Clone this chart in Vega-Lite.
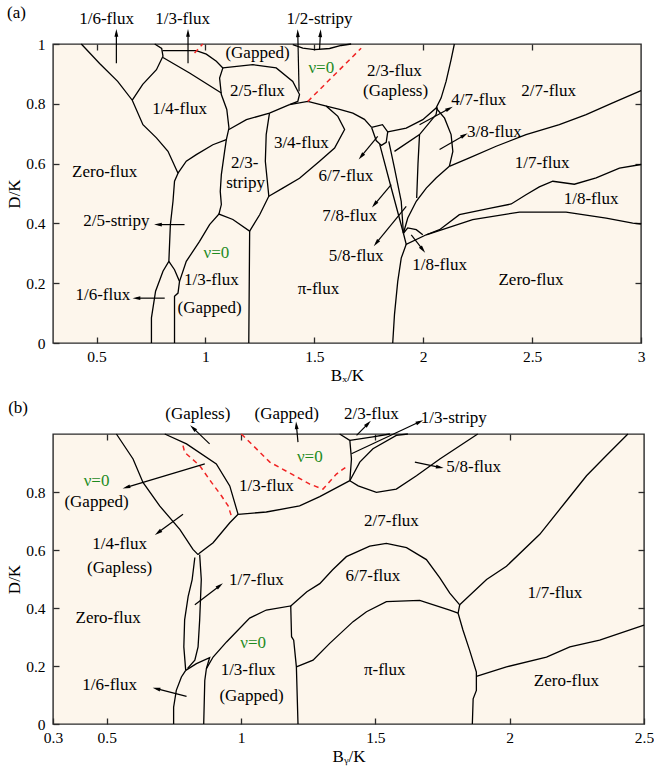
{
"$schema": "https://vega.github.io/schema/vega-lite/v6.json",
"padding": {"left": 4, "top": 2, "right": 0, "bottom": 2},
"config": {
  "view": {"fill": "#FDF6EC", "stroke": "#2a2a2a", "strokeWidth": 1.4},
  "axis": {"domain": false, "grid": false, "ticks": true, "tickSize": -6, "tickColor": "#2a2a2a", "tickWidth": 1.3, "labelFont": "Liberation Serif", "labelFontSize": 15.5, "labelColor": "#000", "labelFlush": false, "labelPadding": 12, "labelOverlap": false, "titleFont": "Liberation Serif", "titleFontSize": 17, "titleFontWeight": "normal", "titleColor": "#000"},
  "axisY": {"labelPadding": 14, "titlePadding": 2},
  "axisX": {"titlePadding": 3},
  "text": {"font": "Liberation Serif", "fontSize": 17},
  "concat": {"spacing": 12}
},
"datasets": {
  "aLines": [
    {"s":"a1","x":0.430,"y":1.0},{"s":"a1","x":0.514,"y":0.935},{"s":"a1","x":0.597,"y":0.875},{"s":"a1","x":0.664,"y":0.812},{"s":"a1","x":0.713,"y":0.730},{"s":"a1","x":0.775,"y":0.686},{"s":"a1","x":0.828,"y":0.641},{"s":"a1","x":0.874,"y":0.568},{"s":"a1","x":0.858,"y":0.541},{"s":"a1","x":0.851,"y":0.474},{"s":"a1","x":0.839,"y":0.396},{"s":"a1","x":0.832,"y":0.273},{"s":"a1","x":0.805,"y":0.240},{"s":"a1","x":0.771,"y":0.173},{"s":"a1","x":0.752,"y":0.084},{"s":"a1","x":0.752,"y":0},
    {"s":"a2","x":0.832,"y":0.273},{"s":"a2","x":0.858,"y":0.245},{"s":"a2","x":0.881,"y":0.206},{"s":"a2","x":0.874,"y":0.167},{"s":"a2","x":0.858,"y":0.156},{"s":"a2","x":0.858,"y":0},
    {"s":"a3","x":0.664,"y":0.812},{"s":"a3","x":0.712,"y":0.865},{"s":"a3","x":0.775,"y":0.914},{"s":"a3","x":0.805,"y":0.959},{"s":"a3","x":0.799,"y":0.985},{"s":"a3","x":0.767,"y":1.0},
    {"s":"a4","x":0.803,"y":0.978},{"s":"a4","x":0.958,"y":0.978},{"s":"a4","x":1.004,"y":0.966},{"s":"a4","x":1.050,"y":0.942},{"s":"a4","x":1.080,"y":0.920},
    {"s":"a5","x":0.805,"y":0.955},{"s":"a5","x":0.927,"y":0.903},{"s":"a5","x":1.073,"y":0.836},
    {"s":"a6","x":1.080,"y":0.920},{"s":"a6","x":1.065,"y":0.886},{"s":"a6","x":1.073,"y":0.831},{"s":"a6","x":1.098,"y":0.781},{"s":"a6","x":1.108,"y":0.719},{"s":"a6","x":1.096,"y":0.680},{"s":"a6","x":1.088,"y":0.641},{"s":"a6","x":1.073,"y":0.563},{"s":"a6","x":1.068,"y":0.507},{"s":"a6","x":1.073,"y":0.463},{"s":"a6","x":1.062,"y":0.431},
    {"s":"a7","x":1.096,"y":0.680},{"s":"a7","x":1.034,"y":0.663},{"s":"a7","x":0.958,"y":0.630},{"s":"a7","x":0.912,"y":0.608},{"s":"a7","x":0.874,"y":0.568},
    {"s":"a8","x":1.080,"y":0.920},{"s":"a8","x":1.218,"y":0.931},{"s":"a8","x":1.325,"y":0.920},{"s":"a8","x":1.401,"y":0.875},{"s":"a8","x":1.432,"y":0.831},{"s":"a8","x":1.424,"y":0.808},{"s":"a8","x":1.386,"y":0.797},
    {"s":"a9","x":1.108,"y":0.714},{"s":"a9","x":1.188,"y":0.747},{"s":"a9","x":1.294,"y":0.769},{"s":"a9","x":1.386,"y":0.797},
    {"s":"a10","x":1.386,"y":0.797},{"s":"a10","x":1.470,"y":0.808},{"s":"a10","x":1.555,"y":0.792},{"s":"a10","x":1.608,"y":0.758},{"s":"a10","x":1.639,"y":0.714},{"s":"a10","x":1.593,"y":0.652},{"s":"a10","x":1.524,"y":0.608},{"s":"a10","x":1.432,"y":0.551},{"s":"a10","x":1.355,"y":0.518},{"s":"a10","x":1.291,"y":0.491},
    {"s":"a11","x":1.294,"y":0.769},{"s":"a11","x":1.279,"y":0.697},{"s":"a11","x":1.275,"y":0.608},{"s":"a11","x":1.291,"y":0.491},{"s":"a11","x":1.249,"y":0.429},{"s":"a11","x":1.203,"y":0.374},
    {"s":"a12","x":0.881,"y":0.206},{"s":"a12","x":0.912,"y":0.273},{"s":"a12","x":0.973,"y":0.340},{"s":"a12","x":1.019,"y":0.396},{"s":"a12","x":1.062,"y":0.431},{"s":"a12","x":1.126,"y":0.413},{"s":"a12","x":1.203,"y":0.374},{"s":"a12","x":1.199,"y":0},
    {"s":"a13","x":1.401,"y":0.998},{"s":"a13","x":1.447,"y":0.986},{"s":"a13","x":1.501,"y":0.981},{"s":"a13","x":1.570,"y":0.985},{"s":"a13","x":1.623,"y":0.995},{"s":"a13","x":1.669,"y":1.0},
    {"s":"a14","x":1.555,"y":0.792},{"s":"a14","x":1.616,"y":0.781},{"s":"a14","x":1.677,"y":0.769},{"s":"a14","x":1.730,"y":0.748},{"s":"a14","x":1.763,"y":0.721},
    {"s":"a15","x":1.763,"y":0.721},{"s":"a15","x":1.813,"y":0.730},{"s":"a15","x":1.837,"y":0.706},{"s":"a15","x":1.830,"y":0.671},{"s":"a15","x":1.808,"y":0.661},{"s":"a15","x":1.784,"y":0.677},{"s":"a15","x":1.763,"y":0.721},
    {"s":"a16","x":1.837,"y":0.706},{"s":"a16","x":1.922,"y":0.719},{"s":"a16","x":1.998,"y":0.747},{"s":"a16","x":2.059,"y":0.786},{"s":"a16","x":2.082,"y":0.819},{"s":"a16","x":2.105,"y":0.875},{"s":"a16","x":2.128,"y":0.948},{"s":"a16","x":2.143,"y":1.0},
    {"s":"a17","x":1.800,"y":0.665},{"s":"a17","x":1.845,"y":0.541},{"s":"a17","x":1.909,"y":0.367},
    {"s":"a18","x":1.842,"y":0.674},{"s":"a18","x":1.868,"y":0.585},{"s":"a18","x":1.899,"y":0.474},{"s":"a18","x":1.909,"y":0.367},
    {"s":"a19","x":1.868,"y":0.641},{"s":"a19","x":1.983,"y":0.697},{"s":"a19","x":2.059,"y":0.764},{"s":"a19","x":2.065,"y":0.788},
    {"s":"a20","x":1.983,"y":0.697},{"s":"a20","x":1.976,"y":0.600},{"s":"a20","x":1.970,"y":0.485},
    {"s":"a21","x":2.059,"y":0.786},{"s":"a21","x":2.098,"y":0.752},{"s":"a21","x":2.128,"y":0.697},{"s":"a21","x":2.136,"y":0.641},{"s":"a21","x":2.120,"y":0.591},
    {"s":"a22","x":2.120,"y":0.591},{"s":"a22","x":2.059,"y":0.552},{"s":"a22","x":2.014,"y":0.518},{"s":"a22","x":1.968,"y":0.474},{"s":"a22","x":1.929,"y":0.418},{"s":"a22","x":1.909,"y":0.367},
    {"s":"a23","x":2.120,"y":0.591},{"s":"a23","x":2.212,"y":0.619},{"s":"a23","x":2.335,"y":0.658},{"s":"a23","x":2.472,"y":0.697},{"s":"a23","x":2.625,"y":0.730},{"s":"a23","x":2.748,"y":0.764},{"s":"a23","x":2.870,"y":0.803},{"s":"a23","x":3.0,"y":0.844},
    {"s":"a24","x":2.014,"y":0.362},{"s":"a24","x":2.075,"y":0.379},{"s":"a24","x":2.166,"y":0.429},{"s":"a24","x":2.304,"y":0.450},{"s":"a24","x":2.404,"y":0.465},{"s":"a24","x":2.472,"y":0.496},{"s":"a24","x":2.533,"y":0.522},{"s":"a24","x":2.595,"y":0.541},{"s":"a24","x":2.694,"y":0.531},{"s":"a24","x":2.794,"y":0.552},{"s":"a24","x":2.901,"y":0.585},{"s":"a24","x":3.0,"y":0.597},
    {"s":"a25","x":2.014,"y":0.362},{"s":"a25","x":2.227,"y":0.413},{"s":"a25","x":2.442,"y":0.438},{"s":"a25","x":2.656,"y":0.438},{"s":"a25","x":2.840,"y":0.418},{"s":"a25","x":2.962,"y":0.401},{"s":"a25","x":3.0,"y":0.398},
    {"s":"a26","x":1.909,"y":0.367},{"s":"a26","x":1.922,"y":0.330},{"s":"a26","x":2.014,"y":0.362},
    {"s":"a27","x":1.909,"y":0.367},{"s":"a27","x":1.929,"y":0.385},{"s":"a27","x":1.968,"y":0.379},{"s":"a27","x":1.998,"y":0.362},
    {"s":"a28","x":1.922,"y":0.330},{"s":"a28","x":1.899,"y":0.284},{"s":"a28","x":1.883,"y":0.206},{"s":"a28","x":1.868,"y":0.095},{"s":"a28","x":1.860,"y":0}
  ],
  "aDash": [
    {"s":"d1","x":1.470,"y":0.808},{"s":"d1","x":1.715,"y":0.986},
    {"s":"d2","x":0.950,"y":0.970},{"s":"d2","x":0.988,"y":1.0}
  ],
  "aArrows": [
    {"tx":0.591,"ty":0.936,"hx":0.591,"hy":1.037,"dir":0},
    {"tx":0.920,"ty":0.936,"hx":0.920,"hy":1.037,"dir":0},
    {"tx":1.430,"ty":0.842,"hx":1.424,"hy":1.036,"dir":-2},
    {"tx":1.524,"ty":0.982,"hx":1.528,"hy":1.036,"dir":4},
    {"tx":0.904,"ty":0.396,"hx":0.782,"hy":0.396,"dir":270},
    {"tx":0.813,"ty":0.150,"hx":0.683,"hy":0.150,"dir":270},
    {"tx":1.791,"ty":0.691,"hx":1.715,"hy":0.624,"dir":220},
    {"tx":1.983,"ty":0.730,"hx":2.120,"hy":0.784,"dir":62},
    {"tx":2.075,"ty":0.647,"hx":2.189,"hy":0.695,"dir":60},
    {"tx":1.853,"ty":0.530,"hx":1.776,"hy":0.463,"dir":220},
    {"tx":1.922,"ty":0.457,"hx":1.784,"hy":0.334,"dir":219},
    {"tx":1.945,"ty":0.362,"hx":1.998,"hy":0.312,"dir":142}
  ],
  "aLabels": [
    {"t":"(a)","x":0.132,"y":1.105},
    {"t":"1/6-flux","x":0.546,"y":1.083},
    {"t":"1/3-flux","x":0.895,"y":1.083},
    {"t":"1/2-stripy","x":1.524,"y":1.083},
    {"t":"(Gapped)","x":1.239,"y":0.969},
    {"t":"2/5-flux","x":1.239,"y":0.842},
    {"t":"2/3-flux","x":1.868,"y":0.909},
    {"t":"(Gapless)","x":1.873,"y":0.844},
    {"t":"4/7-flux","x":2.255,"y":0.814},
    {"t":"2/7-flux","x":2.576,"y":0.844},
    {"t":"1/4-flux","x":0.881,"y":0.781},
    {"t":"3/4-flux","x":1.440,"y":0.669},
    {"t":"3/8-flux","x":2.327,"y":0.706},
    {"t":"2/3-","x":1.180,"y":0.602},
    {"t":"stripy","x":1.184,"y":0.534},
    {"t":"Zero-flux","x":0.537,"y":0.572},
    {"t":"1/7-flux","x":2.546,"y":0.602},
    {"t":"6/7-flux","x":1.645,"y":0.557},
    {"t":"1/8-flux","x":2.771,"y":0.480},
    {"t":"7/8-flux","x":1.662,"y":0.424},
    {"t":"2/5-stripy","x":0.591,"y":0.407},
    {"t":"5/8-flux","x":1.692,"y":0.290},
    {"t":"1/8-flux","x":2.075,"y":0.262},
    {"t":"1/3-flux","x":1.027,"y":0.212},
    {"t":"Zero-flux","x":2.495,"y":0.212},
    {"t":"π-flux","x":1.519,"y":0.179},
    {"t":"1/6-flux","x":0.529,"y":0.162},
    {"t":"(Gapped)","x":1.019,"y":0.117}
  ],
  "aNu": [
    {"t":"ν=0","x":1.532,"y":0.920},
    {"t":"ν=0","x":1.050,"y":0.301}
  ],
  "bLines": [
    {"s":"b1","x":0.536,"y":1.0},{"s":"b1","x":0.598,"y":0.914},{"s":"b1","x":0.635,"y":0.833},{"s":"b1","x":0.697,"y":0.752},{"s":"b1","x":0.772,"y":0.671},{"s":"b1","x":0.821,"y":0.602},{"s":"b1","x":0.840,"y":0.584},
    {"s":"b2","x":0.716,"y":1.0},{"s":"b2","x":0.797,"y":0.966},{"s":"b2","x":0.908,"y":0.897},{"s":"b2","x":0.958,"y":0.821},{"s":"b2","x":0.989,"y":0.723},
    {"s":"b3","x":0.989,"y":0.723},{"s":"b3","x":1.094,"y":0.731},{"s":"b3","x":1.218,"y":0.752},{"s":"b3","x":1.293,"y":0.784},{"s":"b3","x":1.405,"y":0.839},
    {"s":"b4","x":0.989,"y":0.723},{"s":"b4","x":0.958,"y":0.694},{"s":"b4","x":0.896,"y":0.625},{"s":"b4","x":0.846,"y":0.590},{"s":"b4","x":0.840,"y":0.584},
    {"s":"b5","x":0.828,"y":0.574},{"s":"b5","x":0.818,"y":0.498},{"s":"b5","x":0.803,"y":0.439},{"s":"b5","x":0.790,"y":0.359},{"s":"b5","x":0.787,"y":0.266},{"s":"b5","x":0.794,"y":0.185},
    {"s":"b6","x":0.846,"y":0.584},{"s":"b6","x":0.852,"y":0.498},{"s":"b6","x":0.846,"y":0.359},{"s":"b6","x":0.840,"y":0.266},{"s":"b6","x":0.828,"y":0.220},{"s":"b6","x":0.801,"y":0.192},
    {"s":"b7","x":0.794,"y":0.185},{"s":"b7","x":0.778,"y":0.162},{"s":"b7","x":0.759,"y":0.116},{"s":"b7","x":0.749,"y":0.058},{"s":"b7","x":0.749,"y":0},
    {"s":"b8","x":0.794,"y":0.185},{"s":"b8","x":0.834,"y":0.208},{"s":"b8","x":0.883,"y":0.229},{"s":"b8","x":0.871,"y":0.191},{"s":"b8","x":0.865,"y":0.150},{"s":"b8","x":0.861,"y":0},
    {"s":"b9","x":0.871,"y":0.191},{"s":"b9","x":0.896,"y":0.231},{"s":"b9","x":0.946,"y":0.283},{"s":"b9","x":1.032,"y":0.365},{"s":"b9","x":1.094,"y":0.393},{"s":"b9","x":1.185,"y":0.407},{"s":"b9","x":1.188,"y":0.301},{"s":"b9","x":1.196,"y":0.289},{"s":"b9","x":1.206,"y":0.197},{"s":"b9","x":1.212,"y":0},
    {"s":"b10","x":1.185,"y":0.407},{"s":"b10","x":1.245,"y":0.456},{"s":"b10","x":1.293,"y":0.484},{"s":"b10","x":1.341,"y":0.532},{"s":"b10","x":1.392,"y":0.577},{"s":"b10","x":1.479,"y":0.613},{"s":"b10","x":1.541,"y":0.623},{"s":"b10","x":1.616,"y":0.608},{"s":"b10","x":1.690,"y":0.567},{"s":"b10","x":1.740,"y":0.504},{"s":"b10","x":1.777,"y":0.451},{"s":"b10","x":1.814,"y":0.411},
    {"s":"b11","x":1.206,"y":0.197},{"s":"b11","x":1.268,"y":0.220},{"s":"b11","x":1.330,"y":0.278},{"s":"b11","x":1.417,"y":0.353},{"s":"b11","x":1.467,"y":0.387},{"s":"b11","x":1.541,"y":0.422},{"s":"b11","x":1.665,"y":0.426},{"s":"b11","x":1.777,"y":0.393},{"s":"b11","x":1.808,"y":0.382},
    {"s":"b12","x":1.814,"y":0.411},{"s":"b12","x":1.808,"y":0.382},{"s":"b12","x":1.826,"y":0.324},{"s":"b12","x":1.851,"y":0.254},{"s":"b12","x":1.876,"y":0.179},{"s":"b12","x":1.876,"y":0.116},{"s":"b12","x":1.864,"y":0.087},{"s":"b12","x":1.861,"y":0},
    {"s":"b13","x":1.814,"y":0.411},{"s":"b13","x":1.914,"y":0.498},{"s":"b13","x":1.988,"y":0.544},{"s":"b13","x":2.112,"y":0.654},{"s":"b13","x":2.211,"y":0.769},{"s":"b13","x":2.286,"y":0.856},{"s":"b13","x":2.360,"y":0.926},{"s":"b13","x":2.440,"y":1.0},
    {"s":"b14","x":1.876,"y":0.164},{"s":"b14","x":1.988,"y":0.197},{"s":"b14","x":2.137,"y":0.231},{"s":"b14","x":2.224,"y":0.266},{"s":"b14","x":2.335,"y":0.289},{"s":"b14","x":2.5,"y":0.341},
    {"s":"b15","x":1.367,"y":1.0},{"s":"b15","x":1.405,"y":0.978},{"s":"b15","x":1.411,"y":0.914},{"s":"b15","x":1.405,"y":0.839},
    {"s":"b16","x":1.405,"y":0.978},{"s":"b16","x":1.491,"y":0.990},{"s":"b16","x":1.554,"y":1.0},
    {"s":"b17","x":1.405,"y":0.839},{"s":"b17","x":1.442,"y":0.903},{"s":"b17","x":1.491,"y":0.949},{"s":"b17","x":1.578,"y":0.995},{"s":"b17","x":1.621,"y":1.0},
    {"s":"b18","x":1.405,"y":0.839},{"s":"b18","x":1.436,"y":0.821},{"s":"b18","x":1.504,"y":0.799},{"s":"b18","x":1.578,"y":0.810},{"s":"b18","x":1.653,"y":0.856},{"s":"b18","x":1.740,"y":0.914},{"s":"b18","x":1.881,"y":1.0}
  ],
  "bDash": [
    {"s":"r1","x":1.001,"y":1.0},{"s":"r1","x":1.045,"y":0.960},{"s":"r1","x":1.107,"y":0.903},{"s":"r1","x":1.194,"y":0.859},{"s":"r1","x":1.256,"y":0.827},{"s":"r1","x":1.305,"y":0.810},{"s":"r1","x":1.355,"y":0.862},{"s":"r1","x":1.398,"y":0.891},
    {"s":"r2","x":0.784,"y":0.960},{"s":"r2","x":0.790,"y":0.937},{"s":"r2","x":0.846,"y":0.891},{"s":"r2","x":0.890,"y":0.833},{"s":"r2","x":0.927,"y":0.787},{"s":"r2","x":0.952,"y":0.752},{"s":"r2","x":0.964,"y":0.717}
  ],
  "bArrows": [
    {"tx":0.883,"ty":0.966,"hx":0.821,"hy":1.021,"dir":313},
    {"tx":1.212,"ty":0.972,"hx":1.206,"hy":1.030,"dir":-5},
    {"tx":0.865,"ty":0.897,"hx":0.573,"hy":0.816,"dir":253},
    {"tx":0.784,"ty":0.723,"hx":0.691,"hy":0.660,"dir":234},
    {"tx":0.828,"ty":0.411,"hx":0.921,"hy":0.477,"dir":53},
    {"tx":0.797,"ty":0.095,"hx":0.685,"hy":0.122,"dir":284},
    {"tx":1.430,"ty":0.995,"hx":1.473,"hy":1.036,"dir":45},
    {"tx":1.411,"ty":0.932,"hx":1.665,"hy":1.042,"dir":65},
    {"tx":1.647,"ty":0.903,"hx":1.740,"hy":0.885,"dir":101}
  ],
  "bLabels": [
    {"t":"(b)","x":0.170,"y":1.091},
    {"t":"(Gapless)","x":0.839,"y":1.070},
    {"t":"(Gapped)","x":1.170,"y":1.070},
    {"t":"2/3-flux","x":1.485,"y":1.070},
    {"t":"1/3-stripy","x":1.792,"y":1.056},
    {"t":"1/3-flux","x":1.094,"y":0.821},
    {"t":"5/8-flux","x":1.866,"y":0.885},
    {"t":"(Gapped)","x":0.462,"y":0.765},
    {"t":"2/7-flux","x":1.560,"y":0.700},
    {"t":"1/4-flux","x":0.548,"y":0.619},
    {"t":"6/7-flux","x":1.491,"y":0.511},
    {"t":"(Gapless)","x":0.548,"y":0.539},
    {"t":"1/7-flux","x":1.057,"y":0.498},
    {"t":"1/7-flux","x":2.168,"y":0.452},
    {"t":"Zero-flux","x":0.505,"y":0.365},
    {"t":"1/3-flux","x":1.026,"y":0.185},
    {"t":"1/6-flux","x":0.511,"y":0.135},
    {"t":"π-flux","x":1.535,"y":0.187},
    {"t":"(Gapped)","x":1.039,"y":0.095},
    {"t":"Zero-flux","x":2.211,"y":0.150}
  ],
  "bNu": [
    {"t":"ν=0","x":1.256,"y":0.921},
    {"t":"ν=0","x":0.462,"y":0.839},
    {"t":"ν=0","x":1.045,"y":0.278}
  ]
},
"vconcat": [
  {
    "width": 588, "height": 299,
    "resolve": {"axis": {"x": "independent", "y": "independent"}},
    "layer": [
      {"data": {"name": "aLines"}, "mark": {"type": "line", "color": "#000", "strokeWidth": 1.3},
       "encoding": {
         "x": {"field": "x", "type": "quantitative", "scale": {"domain": [0.3, 3], "nice": false, "zero": false}, "axis": {"orient": "bottom", "values": [0.5, 1, 1.5, 2, 2.5, 3], "format": "~g", "title": "Bₓ/K"}},
         "y": {"field": "y", "type": "quantitative", "scale": {"domain": [0, 1], "nice": false, "zero": false}, "axis": {"orient": "left", "values": [0, 0.2, 0.4, 0.6, 0.8, 1], "format": "~g", "title": "D/K"}},
         "detail": {"field": "s"},
         "order": {"value": null}
       }},
      {"data": {"name": "aDash"}, "mark": {"type": "line", "color": "#F02424", "strokeWidth": 1.5, "strokeDash": [5, 4]},
       "encoding": {
         "x": {"field": "x", "type": "quantitative", "scale": {"domain": [0.3, 3], "nice": false, "zero": false}, "axis": {"orient": "top", "values": [0.5, 1, 1.5, 2, 2.5], "labels": false, "title": null}},
         "y": {"field": "y", "type": "quantitative", "scale": {"domain": [0, 1], "nice": false, "zero": false}, "axis": {"orient": "right", "values": [0.2, 0.4, 0.6, 0.8], "labels": false, "title": null}},
         "detail": {"field": "s"},
         "order": {"value": null}
       }},
      {"data": {"name": "aArrows"}, "mark": {"type": "rule", "color": "#000", "strokeWidth": 1.2},
       "encoding": {
         "x": {"field": "tx", "type": "quantitative", "scale": {"domain": [0.3, 3], "nice": false, "zero": false}, "axis": null},
         "y": {"field": "ty", "type": "quantitative", "scale": {"domain": [0, 1], "nice": false, "zero": false}, "axis": null},
         "x2": {"field": "hx"}, "y2": {"field": "hy"}
       }},
      {"data": {"name": "aArrows"}, "mark": {"type": "point", "shape": "M0,-1L0.5,1L-0.5,1Z", "filled": true, "fill": "#000", "strokeWidth": 0, "size": 60, "opacity": 1},
       "encoding": {
         "x": {"field": "hx", "type": "quantitative", "scale": {"domain": [0.3, 3], "nice": false, "zero": false}, "axis": null},
         "y": {"field": "hy", "type": "quantitative", "scale": {"domain": [0, 1], "nice": false, "zero": false}, "axis": null},
         "angle": {"field": "dir", "type": "quantitative", "scale": null}
       }},
      {"data": {"name": "aLabels"}, "mark": {"type": "text", "color": "#000"},
       "encoding": {
         "x": {"field": "x", "type": "quantitative", "scale": {"domain": [0.3, 3], "nice": false, "zero": false}, "axis": null},
         "y": {"field": "y", "type": "quantitative", "scale": {"domain": [0, 1], "nice": false, "zero": false}, "axis": null},
         "text": {"field": "t"}
       }},
      {"data": {"name": "aNu"}, "mark": {"type": "text", "color": "#1E8B1E"},
       "encoding": {
         "x": {"field": "x", "type": "quantitative", "scale": {"domain": [0.3, 3], "nice": false, "zero": false}, "axis": null},
         "y": {"field": "y", "type": "quantitative", "scale": {"domain": [0, 1], "nice": false, "zero": false}, "axis": null},
         "text": {"field": "t"}
       }}
    ]
  },
  {
    "width": 591, "height": 290,
    "resolve": {"axis": {"x": "independent", "y": "independent"}},
    "layer": [
      {"data": {"name": "bLines"}, "mark": {"type": "line", "color": "#000", "strokeWidth": 1.3},
       "encoding": {
         "x": {"field": "x", "type": "quantitative", "scale": {"domain": [0.3, 2.5], "nice": false, "zero": false}, "axis": {"orient": "bottom", "values": [0.3, 0.5, 1, 1.5, 2, 2.5], "format": "~g", "title": "Bᵧ/K"}},
         "y": {"field": "y", "type": "quantitative", "scale": {"domain": [0, 1], "nice": false, "zero": false}, "axis": {"orient": "left", "values": [0, 0.2, 0.4, 0.6, 0.8], "format": "~g", "title": "D/K"}},
         "detail": {"field": "s"},
         "order": {"value": null}
       }},
      {"data": {"name": "bDash"}, "mark": {"type": "line", "color": "#F02424", "strokeWidth": 1.5, "strokeDash": [5, 4]},
       "encoding": {
         "x": {"field": "x", "type": "quantitative", "scale": {"domain": [0.3, 2.5], "nice": false, "zero": false}, "axis": {"orient": "top", "values": [0.5, 1, 1.5, 2], "labels": false, "title": null}},
         "y": {"field": "y", "type": "quantitative", "scale": {"domain": [0, 1], "nice": false, "zero": false}, "axis": {"orient": "right", "values": [0.2, 0.4, 0.6, 0.8], "labels": false, "title": null}},
         "detail": {"field": "s"},
         "order": {"value": null}
       }},
      {"data": {"name": "bArrows"}, "mark": {"type": "rule", "color": "#000", "strokeWidth": 1.2},
       "encoding": {
         "x": {"field": "tx", "type": "quantitative", "scale": {"domain": [0.3, 2.5], "nice": false, "zero": false}, "axis": null},
         "y": {"field": "ty", "type": "quantitative", "scale": {"domain": [0, 1], "nice": false, "zero": false}, "axis": null},
         "x2": {"field": "hx"}, "y2": {"field": "hy"}
       }},
      {"data": {"name": "bArrows"}, "mark": {"type": "point", "shape": "M0,-1L0.5,1L-0.5,1Z", "filled": true, "fill": "#000", "strokeWidth": 0, "size": 60, "opacity": 1},
       "encoding": {
         "x": {"field": "hx", "type": "quantitative", "scale": {"domain": [0.3, 2.5], "nice": false, "zero": false}, "axis": null},
         "y": {"field": "hy", "type": "quantitative", "scale": {"domain": [0, 1], "nice": false, "zero": false}, "axis": null},
         "angle": {"field": "dir", "type": "quantitative", "scale": null}
       }},
      {"data": {"name": "bLabels"}, "mark": {"type": "text", "color": "#000"},
       "encoding": {
         "x": {"field": "x", "type": "quantitative", "scale": {"domain": [0.3, 2.5], "nice": false, "zero": false}, "axis": null},
         "y": {"field": "y", "type": "quantitative", "scale": {"domain": [0, 1], "nice": false, "zero": false}, "axis": null},
         "text": {"field": "t"}
       }},
      {"data": {"name": "bNu"}, "mark": {"type": "text", "color": "#1E8B1E"},
       "encoding": {
         "x": {"field": "x", "type": "quantitative", "scale": {"domain": [0.3, 2.5], "nice": false, "zero": false}, "axis": null},
         "y": {"field": "y", "type": "quantitative", "scale": {"domain": [0, 1], "nice": false, "zero": false}, "axis": null},
         "text": {"field": "t"}
       }}
    ]
  }
]
}
